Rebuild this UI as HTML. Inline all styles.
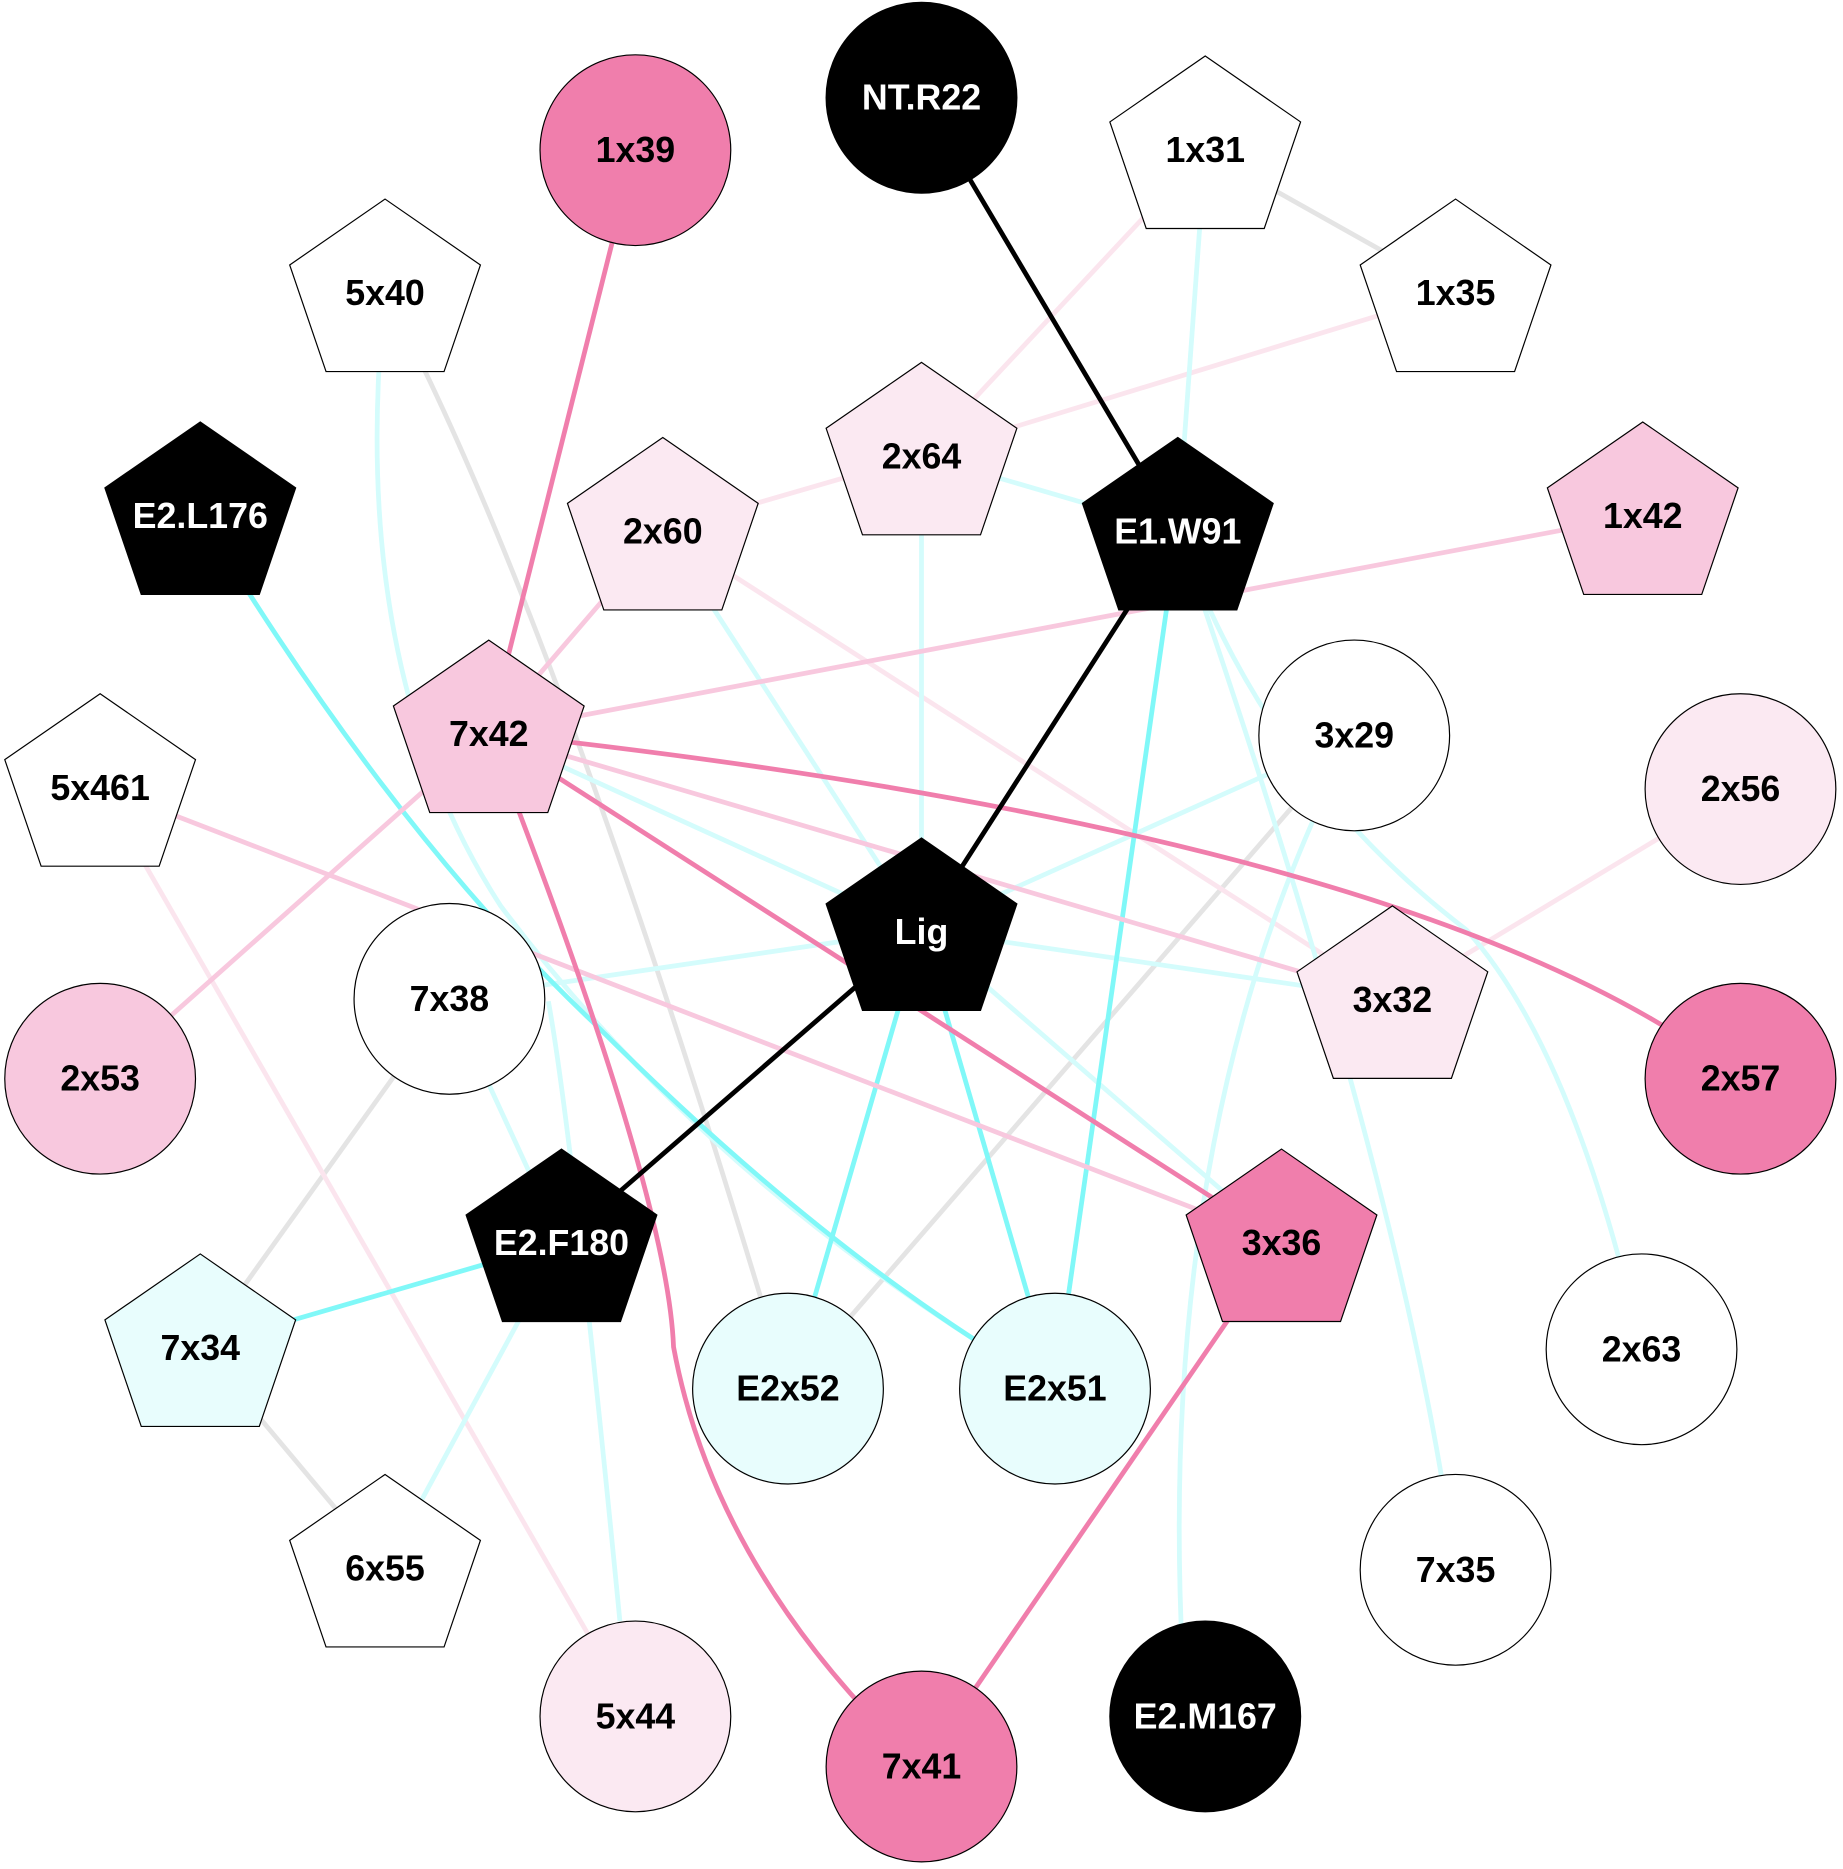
<!DOCTYPE html>
<html><head><meta charset="utf-8"><style>
html,body{margin:0;padding:0;background:#fff;}
svg{display:block}
text{font-family:"Liberation Sans",sans-serif;font-weight:bold;font-size:30px;text-anchor:middle;dominant-baseline:central}
</style></head><body>
<svg width="1843" height="1869" viewBox="0 0 1546 1568" preserveAspectRatio="none" xmlns="http://www.w3.org/2000/svg">
<defs><polygon id="p" points="0,-80 80,-24.7 49.5,64.7 -49.5,64.7 -80,-24.7"/></defs>
<rect width="1546" height="1568" fill="#fff"/>
<g fill="none" stroke-width="4">
<g stroke="#e4e4e4">
<line x1="1011" y1="127" x2="1221" y2="245"/>
<path d="M323 245 Q470 520 661 1165"/>
<line x1="1136" y1="617" x2="661" y2="1165"/>
<line x1="377" y1="838" x2="168" y2="1130"/>
<line x1="168" y1="1130" x2="323" y2="1315"/>
</g>
<g stroke="#fbe5ee">
<line x1="1011" y1="127" x2="773" y2="382"/>
<line x1="1221" y1="245" x2="773" y2="382"/>
<line x1="556" y1="445" x2="773" y2="382"/>
<line x1="556" y1="445" x2="1168" y2="838"/>
<line x1="1460" y1="662" x2="1168" y2="838"/>
<line x1="84" y1="660" x2="533" y2="1440"/>
</g>
<g stroke="#d4fcfc">
<line x1="1011" y1="127" x2="988" y2="445"/>
<line x1="773" y1="382" x2="988" y2="445"/>
<line x1="773" y1="382" x2="773" y2="780"/>
<path d="M323 245 Q290 560 420 760 Q600 1000 885 1165"/>
<line x1="773" y1="780" x2="1136" y2="617"/>
<line x1="773" y1="780" x2="377" y2="838"/>
<line x1="773" y1="780" x2="1168" y2="838"/>
<line x1="773" y1="780" x2="1075" y2="1042"/>
<line x1="410" y1="615" x2="773" y2="780"/>
<line x1="556" y1="445" x2="773" y2="780"/>
<path d="M988 445 Q1180 1000 1221 1317"/>
<path d="M988 445 Q1060 650 1230 780 Q1320 880 1377 1132"/>
<path d="M1136 617 Q960 950 995 1440"/>
<line x1="377" y1="838" x2="471" y2="1042"/>
<path d="M460 840 Q480 950 520 1360"/>
<line x1="471" y1="1042" x2="323" y2="1315"/>
</g>
<g stroke="#80f8f8">
<path d="M168 432 Q330 700 500 860 Q700 1060 885 1165"/>
<line x1="471" y1="1042" x2="168" y2="1130"/>
<line x1="773" y1="780" x2="661" y2="1165"/>
<line x1="773" y1="780" x2="885" y2="1165"/>
<line x1="988" y1="445" x2="885" y2="1165"/>
</g>
<g stroke="#f8c8de">
<line x1="1378" y1="432" x2="410" y2="615"/>
<line x1="410" y1="615" x2="1168" y2="838"/>
<line x1="84" y1="660" x2="1075" y2="1042"/>
<line x1="84" y1="905" x2="410" y2="615"/>
<line x1="556" y1="445" x2="410" y2="615"/>
</g>
<g stroke="#f07eac">
<line x1="533" y1="126" x2="410" y2="615"/>
<path d="M410 615 Q1200 700 1460 905"/>
<line x1="410" y1="615" x2="1075" y2="1042"/>
<path d="M410 615 Q560 1000 565 1130 Q600 1320 773 1482"/>
<line x1="1075" y1="1042" x2="773" y2="1482"/>
</g>
<g stroke="#000">
<line x1="773" y1="82" x2="988" y2="445"/>
<line x1="988" y1="445" x2="773" y2="780"/>
<line x1="773" y1="780" x2="471" y2="1042"/>
</g>
</g>
<g stroke="#000" stroke-width="1">
<circle cx="773" cy="82" r="80" fill="#000"/>
<circle cx="533" cy="126" r="80" fill="#f07eac"/>
<circle cx="1136" cy="617" r="80" fill="#fff"/>
<circle cx="1460" cy="662" r="80" fill="#fbe9f2"/>
<circle cx="377" cy="838" r="80" fill="#fff"/>
<circle cx="84" cy="905" r="80" fill="#f8c8de"/>
<circle cx="1460" cy="905" r="80" fill="#f07eac"/>
<circle cx="661" cy="1165" r="80" fill="#e8fdfd"/>
<circle cx="885" cy="1165" r="80" fill="#e8fdfd"/>
<circle cx="1377" cy="1132" r="80" fill="#fff"/>
<circle cx="1221" cy="1317" r="80" fill="#fff"/>
<circle cx="533" cy="1440" r="80" fill="#fbe9f2"/>
<circle cx="773" cy="1482" r="80" fill="#f07eac"/>
<circle cx="1011" cy="1440" r="80" fill="#000"/>
<use href="#p" x="1011" y="127" fill="#fff"/>
<use href="#p" x="1221" y="247" fill="#fff"/>
<use href="#p" x="323" y="247" fill="#fff"/>
<use href="#p" x="773" y="384" fill="#fbe9f2"/>
<use href="#p" x="168" y="434" fill="#000"/>
<use href="#p" x="556" y="447" fill="#fbe9f2"/>
<use href="#p" x="988" y="447" fill="#000"/>
<use href="#p" x="1378" y="434" fill="#f8c8de"/>
<use href="#p" x="410" y="617" fill="#f8c8de"/>
<use href="#p" x="84" y="662" fill="#fff"/>
<use href="#p" x="773" y="783" fill="#000"/>
<use href="#p" x="1168" y="840" fill="#fbe9f2"/>
<use href="#p" x="471" y="1044" fill="#000"/>
<use href="#p" x="1075" y="1044" fill="#f07eac"/>
<use href="#p" x="168" y="1132" fill="#e8fdfd"/>
<use href="#p" x="323" y="1317" fill="#fff"/>
</g>
<g fill="#000">
<text x="533" y="126">1x39</text>
<text x="1011" y="126">1x31</text>
<text x="1221" y="246">1x35</text>
<text x="323" y="246">5x40</text>
<text x="773" y="383">2x64</text>
<text x="556" y="446">2x60</text>
<text x="1378" y="433">1x42</text>
<text x="410" y="616">7x42</text>
<text x="1136" y="617">3x29</text>
<text x="84" y="661">5x461</text>
<text x="1460" y="662">2x56</text>
<text x="377" y="838">7x38</text>
<text x="1168" y="839">3x32</text>
<text x="84" y="905">2x53</text>
<text x="1460" y="905">2x57</text>
<text x="1075" y="1043">3x36</text>
<text x="168" y="1131">7x34</text>
<text x="661" y="1165">E2x52</text>
<text x="885" y="1165">E2x51</text>
<text x="1377" y="1132">2x63</text>
<text x="323" y="1316">6x55</text>
<text x="1221" y="1317">7x35</text>
<text x="533" y="1440">5x44</text>
<text x="773" y="1482">7x41</text>
</g>
<g fill="#fff">
<text x="773" y="82">NT.R22</text>
<text x="168" y="433">E2.L176</text>
<text x="988" y="446">E1.W91</text>
<text x="773" y="782">Lig</text>
<text x="471" y="1043">E2.F180</text>
<text x="1011" y="1440">E2.M167</text>
</g>
</svg>
</body></html>
